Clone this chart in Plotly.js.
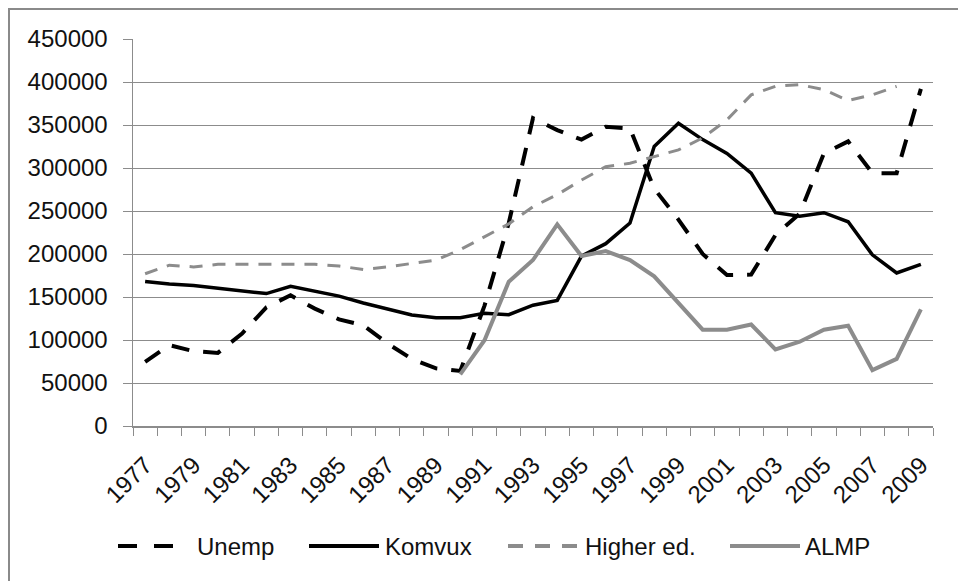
<!DOCTYPE html>
<html>
<head>
<meta charset="utf-8">
<script src="https://cdn.plot.ly/plotly-3.0.1.min.js"></script>
<style>
html,body{margin:0;padding:0;background:#fff;overflow:hidden}
#chart{width:958px;height:581px;position:absolute;left:0;top:0}
#frame{position:absolute;left:8px;top:8px;width:1200px;height:1200px;border-left:2px solid #8a8a8a;border-top:2px solid #8a8a8a;pointer-events:none}
</style>
</head>
<body>
<div id="chart"></div>
<div id="frame"></div>
<script>
// ---- data ----
const years = [1977,1978,1979,1980,1981,1982,1983,1984,1985,1986,1987,1988,1989,1990,1991,1992,1993,1994,1995,1996,1997,1998,1999,2000,2001,2002,2003,2004,2005,2006,2007,2008,2009];
const xTickLabels = ['1977','','1979','','1981','','1983','','1985','','1987','','1989','','1991','','1993','','1995','','1997','','1999','','2001','','2003','','2005','','2007','','2009'];
const seriesNames = ['Unemp','Komvux','Higher ed.','ALMP'];
const unemp = [74500,94000,87000,85000,107500,138000,152000,136500,124000,117000,96000,78000,67000,64000,140000,236000,358000,344000,333000,348000,346000,276000,240000,200000,175500,176000,222000,247000,317000,331000,294000,294000,392000];
const komvux = [168000,165000,163500,160000,157000,154000,162500,157000,151000,143000,135500,129000,126000,126000,131000,129500,140500,146000,197500,212000,236000,325000,352000,333000,317000,294000,248000,244000,248000,237500,199000,178000,188000];
const higherEd = [177000,187000,185000,188000,188000,188000,188000,188000,186000,182000,185000,189000,193000,205000,220000,235000,255000,269000,286000,301500,305500,313000,321000,335000,356000,385000,395000,397000,391000,378500,385000,395000,null];
const almp = [null,null,null,null,null,null,null,null,null,null,null,null,null,60000,99800,167700,193000,234500,197600,203400,193000,174000,142500,112000,112000,118000,89000,98000,112000,116500,65000,78000,135500];
const yTickVals = [0,50000,100000,150000,200000,250000,300000,350000,400000,450000];
const yTickLabels = ['0','50000','100000','150000','200000','250000','300000','350000','400000','450000'];

// ---- styles ----
const FONT = '"Liberation Sans", Arial, sans-serif';
const BLACK = '#000000';
const GRAY = '#8c8c8c';
const styles = [
  {color: BLACK, width: 4, dash: '18px,14px', legDash: '19px,17px'},
  {color: BLACK, width: 3.5, dash: 'solid', legDash: 'solid'},
  {color: GRAY, width: 3, dash: '13px,10px', legDash: '15px,12px'},
  {color: GRAY, width: 4, dash: 'solid', legDash: 'solid'}
];
const values = [unemp, komvux, higherEd, almp];

const traces = values.map((v, i) => ({
  type: 'scatter', mode: 'lines', x: years, y: v, name: seriesNames[i],
  connectgaps: false, showlegend: false, hoverinfo: 'x+y+name',
  line: {color: styles[i].color, width: styles[i].width, dash: styles[i].dash, shape: 'linear'}
}));

// plot area pixel geometry (for the hand-made legend)
const L = 133, R = 25, T = 39, B = 155, W = 958, H = 581;
const pw = W - L - R, ph = H - T - B;
const px = x => (x - L) / pw;
const py = y => (H - B - y) / ph;

const legendItems = [
  {x0: 118, x1: 173, tx: 197},
  {x0: 309, x1: 379, tx: 385},
  {x0: 508, x1: 577, tx: 585},
  {x0: 730, x1: 800, tx: 805}
];
const legY = 546;
const shapes = legendItems.map((it, i) => ({
  type: 'line', xref: 'paper', yref: 'paper',
  x0: px(it.x0), x1: px(it.x1), y0: py(legY), y1: py(legY),
  line: {color: styles[i].color, width: 4, dash: styles[i].legDash}
}));
const annotations = legendItems.map((it, i) => ({
  xref: 'paper', yref: 'paper', x: px(it.tx - 2), y: py(legY),
  xanchor: 'left', yanchor: 'middle', showarrow: false,
  text: seriesNames[i], font: {family: FONT, size: 24, color: '#111'}
}));

const layout = {
  width: W, height: H,
  margin: {l: L, r: R, t: T, b: B, pad: 0},
  paper_bgcolor: '#ffffff', plot_bgcolor: '#ffffff',
  font: {family: FONT, size: 24, color: '#111'},
  showlegend: false,
  xaxis: {
    type: 'category', tickmode: 'array', tickvals: years, ticktext: xTickLabels,
    tickson: 'boundaries', ticks: 'outside', ticklen: 8, tickwidth: 1, tickcolor: '#8c8c8c',
    tickangle: -45, ticklabelstandoff: 14,
    tickfont: {family: FONT, size: 24, color: '#111'},
    showline: true, linecolor: '#8c8c8c', linewidth: 1.5,
    showgrid: false, zeroline: false, automargin: false,
    range: [-0.5, years.length - 0.5], fixedrange: true
  },
  yaxis: {
    range: [0, 450000], tickmode: 'array', tickvals: yTickVals, ticktext: yTickLabels,
    ticks: 'outside', ticklen: 9, tickwidth: 1, tickcolor: '#8c8c8c',
    ticklabelstandoff: 10,
    tickfont: {family: FONT, size: 24, color: '#111'},
    showline: true, linecolor: '#8c8c8c', linewidth: 1.5,
    showgrid: true, gridcolor: '#8c8c8c', gridwidth: 1,
    zeroline: false, automargin: false, fixedrange: true
  },
  shapes: shapes,
  annotations: annotations
};

Plotly.newPlot('chart', traces, layout, {displayModeBar: false, staticPlot: true});
</script>
</body>
</html>
